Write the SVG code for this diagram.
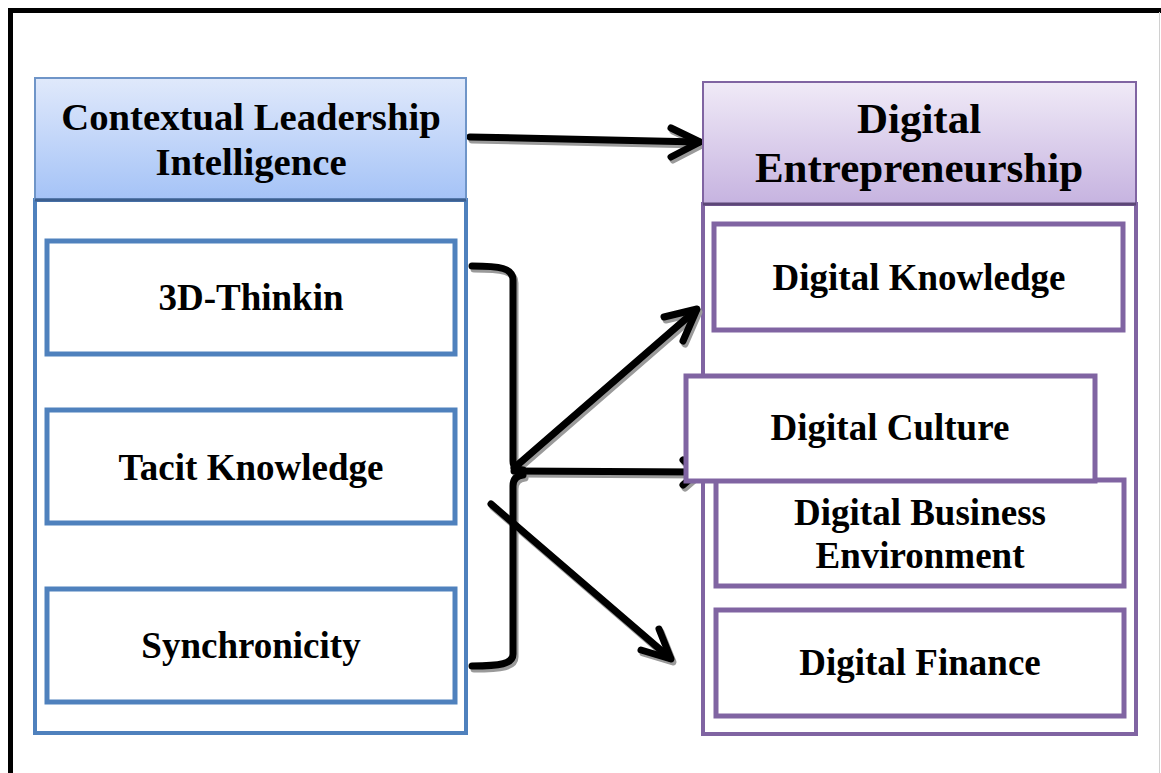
<svg xmlns="http://www.w3.org/2000/svg" xmlns:xlink="http://www.w3.org/1999/xlink" width="1161" height="773" viewBox="0 0 1161 773">
  <style>
    .t { font-family: "Liberation Serif", "Times New Roman", serif; font-weight: bold; fill: #000; text-anchor: middle; }
    .hl { font-size: 38.7px; }
    .hr { font-size: 43px; }
    .b { font-size: 37px; }
    .bb { fill: #fff; stroke: #4f81bd; stroke-width: 5; }
    .bc { fill: #fff; stroke: #4f81bd; stroke-width: 4; }
    .pb { fill: #fff; stroke: #8064a2; stroke-width: 5; }
    .pc { fill: #fff; stroke: #8064a2; stroke-width: 4; }
    .ln { fill: none; stroke-width: 7; stroke-linecap: round; stroke-linejoin: round; }
    .main { stroke: #000; }
    .shadow { stroke: #9a9a9a; }
  </style>
  <defs>
    <linearGradient id="gBlue" x1="0" y1="0" x2="0" y2="1">
      <stop offset="0" stop-color="#e0e9fb"/>
      <stop offset="1" stop-color="#a5c3f7"/>
    </linearGradient>
    <linearGradient id="gPurple" x1="0" y1="0" x2="0" y2="1">
      <stop offset="0" stop-color="#f0eaf7"/>
      <stop offset="1" stop-color="#c6b3e0"/>
    </linearGradient>
    <g id="conn">
      <path d="M470,137 L699,142"/>
      <path d="M671,128 L700,142 L671,157"/>
      <path d="M472,266 C500,266 513,268 513,280 L513,461 Q513,469 523,470"/>
      <path d="M523,475 Q513,476 513,486 L513,654 C513,664 500,666 472,666"/>
      <path d="M514,471 L698,472"/>
      <path d="M683,460 L698,472 L683,485"/>
      <path d="M514,468 L696,310"/>
      <path d="M664,317 L697,309 L683,341"/>
      <path d="M491,504 L670,658"/>
      <path d="M641,650 L671,659 L659,629"/>
    </g>
  </defs>
  <rect width="1161" height="773" fill="#fff"/>
  <path d="M10.5,773 L10.5,10.5 L1161,10.5" fill="none" stroke="#000" stroke-width="5"/>
  <line x1="1159.5" y1="12" x2="1159.5" y2="773" stroke="#d0d0d0" stroke-width="1"/>

  <g id="left-container">
    <rect class="bc" x="35" y="200" width="431" height="533"/>
  </g>
  <g id="right-container">
    <rect class="pc" x="703" y="204" width="433" height="530"/>
  </g>

  <g id="connectors">
    <use xlink:href="#conn" class="ln shadow" transform="translate(2,3)"/>
    <use xlink:href="#conn" class="ln main"/>
  </g>

  <g id="node-cli">
    <rect x="35" y="78" width="431" height="121" fill="url(#gBlue)" stroke="#6f95c8" stroke-width="2"/>
    <line x1="35" y1="200" x2="466" y2="200" stroke="#3d5f8f" stroke-width="3"/>
    <text class="t hl" x="251" y="130">Contextual Leadership</text>
    <text class="t hl" x="251" y="175">Intelligence</text>
  </g>
  <g id="node-de">
    <rect x="703" y="82" width="433" height="122" fill="url(#gPurple)" stroke="#8064a2" stroke-width="2"/>
    <line x1="703" y1="204" x2="1136" y2="204" stroke="#5c4776" stroke-width="3"/>
    <text class="t hr" x="919" y="133">Digital</text>
    <text class="t hr" x="919" y="182">Entrepreneurship</text>
  </g>

  <g id="node-3d">
    <rect class="bb" x="47" y="241" width="408" height="113"/>
    <text class="t b" x="251" y="310">3D-Thinkin</text>
  </g>
  <g id="node-tacit">
    <rect class="bb" x="47" y="410" width="408" height="113"/>
    <text class="t b" x="251" y="480">Tacit Knowledge</text>
  </g>
  <g id="node-sync">
    <rect class="bb" x="47" y="589" width="408" height="113"/>
    <text class="t b" x="251" y="658">Synchronicity</text>
  </g>

  <g id="node-dk">
    <rect class="pb" x="714" y="224" width="409" height="106"/>
    <text class="t b" x="919" y="290">Digital Knowledge</text>
  </g>
  <g id="node-dbe">
    <rect class="pb" x="716" y="480" width="408" height="106"/>
    <text class="t b" x="920" y="525">Digital Business</text>
    <text class="t b" x="920" y="568">Environment</text>
  </g>
  <g id="node-dc">
    <rect class="pb" x="686" y="376" width="409" height="105"/>
    <text class="t b" x="890" y="440">Digital Culture</text>
  </g>
  <g id="node-df">
    <rect class="pb" x="716" y="610" width="408" height="106"/>
    <text class="t b" x="920" y="675">Digital Finance</text>
  </g>
</svg>
